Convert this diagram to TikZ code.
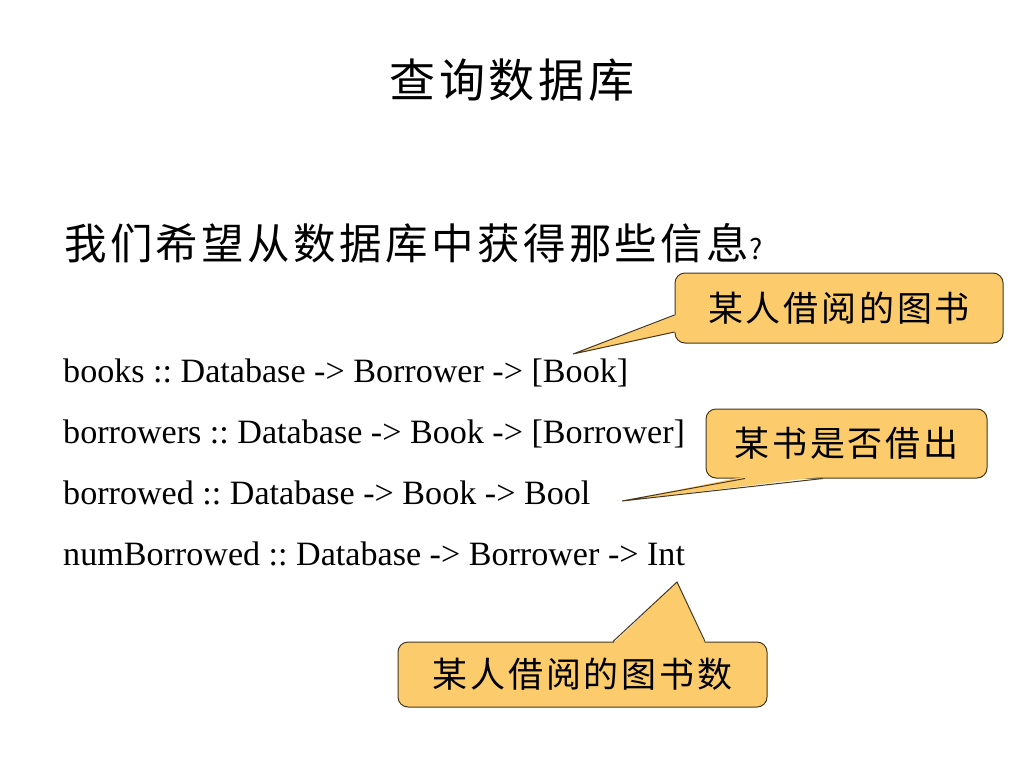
\documentclass[tikz,border=0pt]{standalone}
\usepackage{fontspec}
\setmainfont{Liberation Serif}
\newfontfamily\cjk[LetterSpace=8]{Noto Sans CJK SC}
\usetikzlibrary{calc}
\definecolor{calloutyellow}{RGB}{252,204,108}
\definecolor{calloutedge}{RGB}{70,55,30}
\tikzset{
  callout/.style={draw=calloutedge, fill=calloutyellow, rounded corners=10pt,
    line width=1pt, inner sep=0pt, font=\cjk\fontsize{35}{40}\selectfont},
  calloutline/.style={draw=calloutedge, line width=1pt, line join=miter},
  codeline/.style={anchor=base west, inner sep=0pt, font=\fontsize{34.1}{38}\selectfont},
}
\frenchspacing
\begin{document}
\begin{tikzpicture}[x=1pt,y=-1pt]
	% page frame
	\useasboundingbox[fill=white] (0,0) rectangle (1024,768);
	% title and question
	\node (title) at (512,80) {\cjk\fontsize{46}{50}\selectfont 查询数据库};
	\node[anchor=west, inner sep=0pt] (question) at (64,243)
		{\cjk\fontsize{42.5}{48}\selectfont 我们希望从数据库中获得那些信息\fontsize{28}{32}\selectfont ?};
	% the signatures
	\node[codeline] (books) at (63,382) {books :: Database -> Borrower -> [Book]};
	\node[codeline] (borrowers) at (63,443) {borrowers :: Database -> Book -> [Borrower]};
	\node[codeline] (borrowed) at (63,504) {borrowed :: Database -> Book -> Bool};
	\node[codeline] (numborrowed) at (63,565) {numBorrowed :: Database -> Borrower -> Int};
	% callout boxes
	\node[callout, minimum width=328pt, minimum height=70pt] (bookscall) at (839,308) {某人借阅的图书};
	\node[callout, minimum width=281pt, minimum height=69pt] (borrowedcall) at (846.5,443.5) {某书是否借出};
	\node[callout, minimum width=369pt, minimum height=65pt] (numcall) at (582.5,674.5) {某人借阅的图书数};
	% pointer tips
	\coordinate (bookstip) at (573,354);
	\coordinate (borrowedtip) at (622,501);
	\coordinate (numtip) at (677,582);
	% pointers: fill over the border, then the two edges
	\fill[calloutyellow] (bookstip) -- ($(bookscall.west)+(2,7)$) -- ($(bookscall.west)+(2,24)$) -- cycle;
	\draw[calloutline] ($(bookscall.west)+(0,7)$) -- (bookstip) -- ($(bookscall.west)+(0,24)$);
	\fill[calloutyellow] (borrowedtip) -- ($(borrowedcall.south)+(-101.5,-2)$) -- ($(borrowedcall.south)+(-23.5,-2)$) -- cycle;
	\draw[calloutline] ($(borrowedcall.south)+(-101.5,0)$) -- (borrowedtip) -- ($(borrowedcall.south)+(-23.5,0)$);
	\fill[calloutyellow] (numtip) -- ($(numcall.north)+(30.5,2)$) -- ($(numcall.north)+(122.5,2)$) -- cycle;
	\draw[calloutline] ($(numcall.north)+(30.5,0)$) -- (numtip) -- ($(numcall.north)+(122.5,0)$);
\end{tikzpicture}
\end{document}
